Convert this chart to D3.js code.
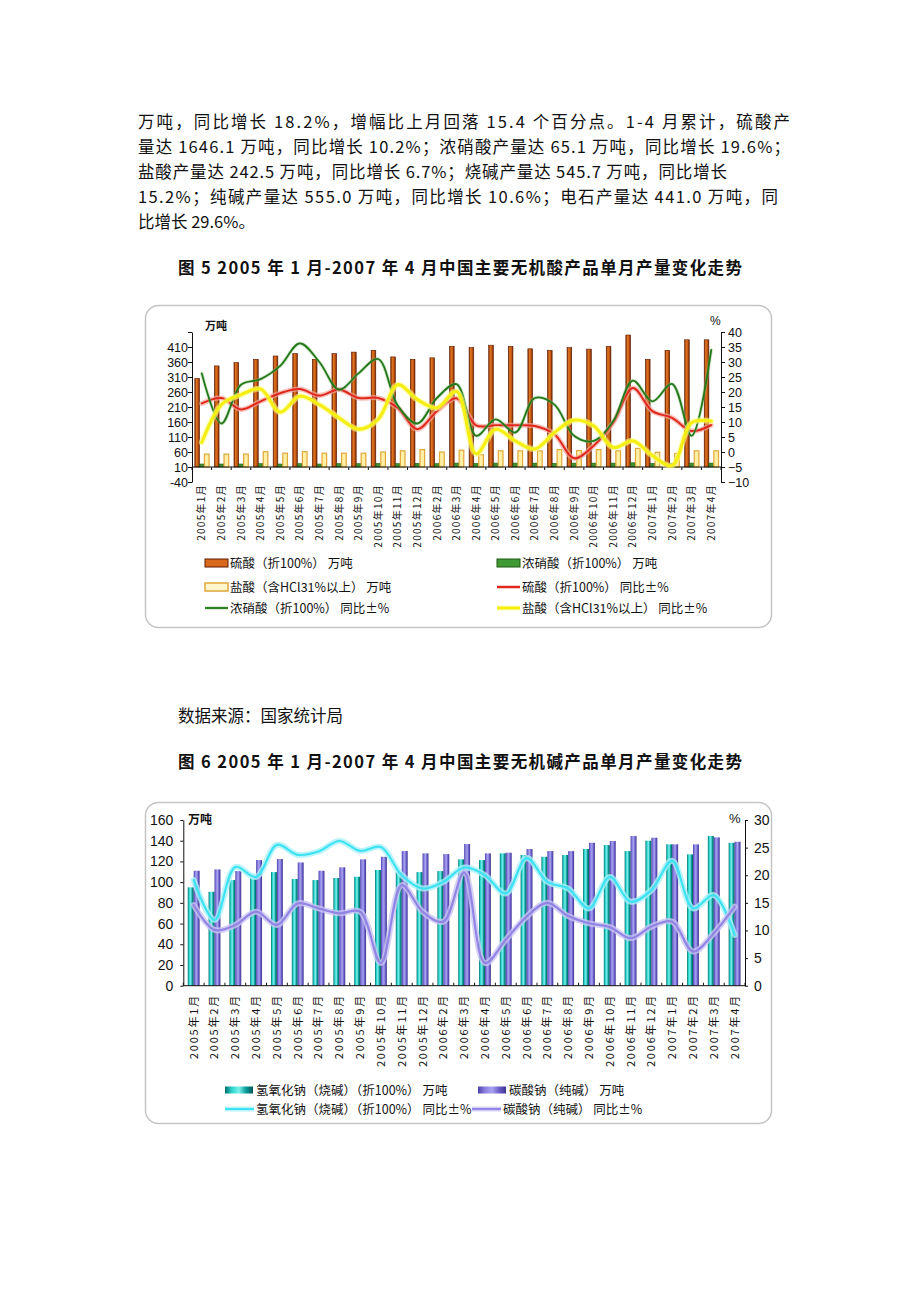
<!DOCTYPE html>
<html><head><meta charset="utf-8">
<script src="https://cdn.jsdelivr.net/npm/d3@7"></script>
<style>body{margin:0;background:#fff}svg{display:block}</style>
</head><body><svg id="c" width="920" height="1302"></svg>
<script>
// ---------- data ----------
const paraLines = [
  "万吨，同比增长 18.2%，增幅比上月回落 15.4 个百分点。1-4 月累计，硫酸产",
  "量达 1646.1 万吨，同比增长 10.2%；浓硝酸产量达 65.1 万吨，同比增长 19.6%；",
  "盐酸产量达 242.5 万吨，同比增长 6.7%；烧碱产量达 545.7 万吨，同比增长",
  "15.2%；纯碱产量达 555.0 万吨，同比增长 10.6%；电石产量达 441.0 万吨，同",
  "比增长 29.6%。"
];
const title1 = "图 5 2005 年 1 月-2007 年 4 月中国主要无机酸产品单月产量变化走势";
const title2 = "图 6 2005 年 1 月-2007 年 4 月中国主要无机碱产品单月产量变化走势";
const sourceText = "数据来源：国家统计局";

const months = ["2005年1月","2005年2月","2005年3月","2005年4月","2005年5月","2005年6月","2005年7月","2005年8月","2005年9月","2005年10月","2005年11月","2005年12月",
  "2006年2月","2006年3月","2006年4月","2006年5月","2006年6月","2006年7月","2006年8月","2006年9月","2006年10月","2006年11月","2006年12月",
  "2007年1月","2007年2月","2007年3月","2007年4月"];

// chart 1 (acids)
const sulfuricOutput = [305,347,358,369,380,388,369,388,393,399,377,369,374,412,408,416,412,404,399,408,403,412,450,369,399,434,434];
const nitricOutput   = [20,20,20,21,20,21,20,21,21,22,21,22,21,23,22,23,23,23,22,23,23,23,24,22,21,23,23];
const hclOutput      = [53,53,53,61,56,61,56,56,56,60,64,68,60,66,51,64,64,64,68,65,68,64,72,59,55,64,64];
const sulfuricYoY = [16.2,18,14.2,16.9,19.6,21,18.8,20.8,18,18,14.7,7.6,13.6,17.9,8.9,8.9,8.9,8.7,5.9,-2.1,2.1,9.8,21.3,13.6,11.4,7,9];
const nitricYoY   = [26.2,9.5,22.4,24.3,28.7,36.2,30,20.8,26.2,31,15.5,9.5,18,22.6,5.4,10.9,6.5,18,15.8,5.4,3.7,10.3,23.8,16.9,22.7,5.4,34];
const hclYoY      = [3.2,15.8,19.1,21,13.3,18.6,15.8,11.4,7.6,10.9,22.4,17.5,14.7,20.2,-0.6,7.6,3.7,1,6.5,10.6,8.7,1.5,3.7,-1.2,-4.5,9.8,10.3];
const ticks1L = [-40,10,60,110,160,210,260,310,360,410,460];
const ticks1R = [-10,-5,0,5,10,15,20,25,30,35,40];

// chart 2 (alkalis)
const causticOutput = [95,90.7,102,103.7,109.7,103,102,104,105.2,111.7,109.7,109.7,110.7,122,121.3,127.8,126.2,124.5,126.2,132,135.8,130,140,136.5,126.8,144.5,138];
const sodaOutput    = [111,112.3,110.7,121.3,122.3,119,111,114.3,122,124.5,130,127.8,127.1,136.8,127.8,128.4,132,130,130,138,139.7,144.5,142.9,136.5,136.5,143.2,139];
const causticYoY = [19.1,11.9,21.5,19.7,25.5,23.7,24.3,26.2,24.4,25.1,20,17.6,18.8,21.4,20,16.7,23.1,18.8,17.6,14,19.7,15.2,17.3,22.6,14,16.4,9.2];
const sodaYoY    = [14.6,10.1,11,13.4,11,14.9,14,13.1,13.4,4.1,18.2,13.4,11.6,20.5,4.1,8.3,12.5,15,12.6,11.3,10.6,8.6,10.7,11.6,6.2,9.5,14.3];
const ticks2L = [0,20,40,60,80,100,120,140,160];
const ticks2R = [0,5,10,15,20,25,30];

const legend1 = [
  {t:"硫酸（折100%） 万吨", k:"barS"}, {t:"浓硝酸（折100%） 万吨", k:"barN"},
  {t:"盐酸（含HCl31%以上） 万吨", k:"barH"}, {t:"硫酸（折100%） 同比±%", k:"lineS"},
  {t:"浓硝酸（折100%） 同比±%", k:"lineN"}, {t:"盐酸（含HCl31%以上） 同比±%", k:"lineH"}
];
const legend2 = [
  {t:"氢氧化钠（烧碱）（折100%） 万吨", k:"barC"}, {t:"碳酸钠（纯碱） 万吨", k:"barD"},
  {t:"氢氧化钠（烧碱）（折100%） 同比±%", k:"lineC"}, {t:"碳酸钠（纯碱） 同比±%", k:"lineD"}
];

// ---------- drawing ----------
const svg = d3.select("#c");
const CJK = "'Noto Sans CJK SC','Noto Sans',sans-serif";
const LAT = "'Liberation Sans',Arial,sans-serif";
const defs = svg.append("defs");
function hgrad(id, stops){
  const g = defs.append("linearGradient").attr("id",id).attr("x1","0").attr("x2","1").attr("y1","0").attr("y2","0");
  stops.forEach((c,i)=>g.append("stop").attr("offset",(i/(stops.length-1)*100)+"%").attr("stop-color",c));
}
hgrad("gS",["#7a2606","#e0761f","#c85a12","#6a1e02"]);
hgrad("gC",["#006e6e","#2fd6d0","#7af0ea","#0a9a9a","#005a5a"]);
hgrad("gD",["#4a3fa6","#8a80e0","#a9a2f0","#6a5fc8","#3e3490"]);

// paragraph
const paraWidths = [652,652,589,640,null];
paraLines.forEach((s,i)=>{
  const t = svg.append("text").attr("x",138).attr("y",128+i*25).attr("font-family",CJK)
    .attr("font-size",16.5).attr("fill","#111").text(s);
  if(paraWidths[i]) t.attr("textLength",paraWidths[i]).attr("lengthAdjust","spacing");
});
svg.append("text").attr("x",178).attr("y",274).attr("font-family",CJK).attr("font-size",16.5)
  .attr("font-weight","bold").attr("fill","#111").attr("textLength",564).attr("lengthAdjust","spacing").text(title1);
svg.append("text").attr("x",178).attr("y",722).attr("font-family",CJK).attr("font-size",16.5)
  .attr("fill","#111").text(sourceText);
svg.append("text").attr("x",178).attr("y",768).attr("font-family",CJK).attr("font-size",16.5)
  .attr("font-weight","bold").attr("fill","#111").attr("textLength",564).attr("lengthAdjust","spacing").text(title2);

// boxes
svg.append("rect").attr("x",145.5).attr("y",305.5).attr("width",626).attr("height",322).attr("rx",13)
  .attr("fill","#fff").attr("stroke","#c4c4c4").attr("stroke-width",1.5);
svg.append("rect").attr("x",145.5).attr("y",802.5).attr("width",626).attr("height",321).attr("rx",13)
  .attr("fill","#fff").attr("stroke","#c4c4c4").attr("stroke-width",1.5);

function glowLine(g, data, x, y, color, glow, w, gw, gop){
  const line = d3.line().x((d,i)=>x(i)).y(d=>y(d)).curve(d3.curveCatmullRom.alpha(0.5));
  g.append("path").attr("d",line(data)).attr("fill","none").attr("stroke",glow).attr("stroke-width",gw)
    .attr("stroke-opacity",gop).attr("stroke-linejoin","round").attr("stroke-linecap","round");
  g.append("path").attr("d",line(data)).attr("fill","none").attr("stroke",color).attr("stroke-width",w)
    .attr("stroke-linejoin","round").attr("stroke-linecap","round");
}

// ===== chart 1 =====
{
  const g = svg.append("g");
  const x = d3.scaleBand().domain(months).range([192,721]);
  const xs = d3.scaleBand().domain(["s","n","h"]).range([0,x.bandwidth()]).paddingOuter(0.6);
  const yL = d3.scaleLinear().domain([-40,460]).range([482,332]);
  const yR = d3.scaleLinear().domain([-10,40]).range([482,332]);
  const base = yL(10);
  const cx = i => x(months[i]) + x.bandwidth()/2;

  // bars
  const bw = xs.bandwidth();
  g.selectAll(".bs").data(sulfuricOutput).join("rect").attr("x",(d,i)=>x(months[i])+xs("s")).attr("width",bw)
    .attr("y",d=>yL(d)).attr("height",d=>base-yL(d)).attr("fill","url(#gS)").attr("stroke","#5e1a02").attr("stroke-width",0.6);
  g.selectAll(".bn").data(nitricOutput).join("rect").attr("x",(d,i)=>x(months[i])+xs("n")).attr("width",bw)
    .attr("y",d=>yL(d)).attr("height",d=>base-yL(d)).attr("fill","#3f8f2e").attr("stroke","#1d5a10").attr("stroke-width",0.6);
  g.selectAll(".bh").data(hclOutput).join("rect").attr("x",(d,i)=>x(months[i])+xs("h")+0.3).attr("width",bw)
    .attr("y",d=>yL(d)).attr("height",d=>base-yL(d)).attr("fill","#fff0a6").attr("stroke","#e2a73a").attr("stroke-width",1.2);

  // axes
  const aL = g.append("g").attr("transform","translate(192,0)")
    .call(d3.axisLeft(yL).tickValues(ticks1L).tickSize(4).tickSizeOuter(0).tickFormat(d=>d<=410?d:""));
  const aR = g.append("g").attr("transform","translate(721,0)")
    .call(d3.axisRight(yR).tickValues(ticks1R).tickSize(4).tickSizeOuter(0));
  [aL,aR].forEach(a=>{a.selectAll("text").attr("font-family",LAT).attr("font-size",12.5).attr("fill","#111");
    a.selectAll("path,line").attr("stroke","#111");});
  aL.selectAll("text").attr("x",-4);
  aR.selectAll("text").attr("x",7);
  // category axis line at value 10
  g.append("line").attr("x1",192).attr("x2",721).attr("y1",base).attr("y2",base).attr("stroke","#111");
  g.selectAll(".ct").data(d3.range(months.length+1)).join("line")
    .attr("x1",i=>x.range()[0]+i*x.step()).attr("x2",i=>x.range()[0]+i*x.step())
    .attr("y1",base).attr("y2",base+3).attr("stroke","#111");
  const aB = g.append("g").attr("transform","translate(0,483)").call(d3.axisBottom(x).tickSize(0));
  aB.select(".domain").remove();
  aB.selectAll("text").attr("transform","rotate(-90)").attr("text-anchor","end").attr("x",-1).attr("y",0)
    .attr("dy","0.36em").attr("font-family",CJK).attr("font-size",10).attr("letter-spacing",1.3).attr("fill","#111");

  // lines
  glowLine(g, sulfuricYoY, cx, yR, "#e0281c", "#f6a6a0", 2, 5, 0.7);
  glowLine(g, nitricYoY, cx, yR, "#23781a", "#8ac07a", 1.8, 3.5, 0.4);
  glowLine(g, hclYoY, cx, yR, "#f4ee12", "#ffff90", 3.2, 6, 0.6);

  g.append("text").attr("x",205).attr("y",330).attr("font-family",CJK).attr("font-size",11).attr("font-weight","bold").attr("fill","#111").text("万吨");
  g.append("text").attr("x",710).attr("y",325).attr("font-family",LAT).attr("font-size",12).attr("fill","#111").text("%");

  // legend
  const pos = [[205,563],[497,563],[205,587],[497,587],[205,608],[497,608]];
  legend1.forEach((d,i)=>{
    const [lx,ly] = pos[i];
    if(d.k==="barS") g.append("rect").attr("x",lx).attr("y",ly-4).attr("width",23).attr("height",8).attr("fill","#d8681c").attr("stroke","#5e1a02");
    if(d.k==="barN") g.append("rect").attr("x",lx).attr("y",ly-4).attr("width",23).attr("height",8).attr("fill","#3f9a36").attr("stroke","#1d5a10");
    if(d.k==="barH") g.append("rect").attr("x",lx).attr("y",ly-4).attr("width",23).attr("height",8).attr("fill","#fff6cc").attr("stroke","#e2a73a").attr("stroke-width",1.5);
    const lc = {lineS:["#e0281c","#f6a6a0",2,4],lineN:["#23781a","#8ac07a",1.8,3],lineH:["#f4ee12","#ffff90",3,5]}[d.k];
    if(lc){
      g.append("line").attr("x1",lx).attr("x2",lx+23).attr("y1",ly).attr("y2",ly).attr("stroke",lc[1]).attr("stroke-width",lc[3]).attr("stroke-opacity",0.6);
      g.append("line").attr("x1",lx).attr("x2",lx+23).attr("y1",ly).attr("y2",ly).attr("stroke",lc[0]).attr("stroke-width",lc[2]);
    }
    g.append("text").attr("x",lx+25).attr("y",ly+4.5).attr("font-family",CJK).attr("font-size",12.5)
      .attr("fill","#111").text(d.t);
  });
}

// ===== chart 2 =====
{
  const g = svg.append("g");
  const x = d3.scaleBand().domain(months).range([183.3,745]);
  const xs = d3.scaleBand().domain(["c","d"]).range([0,x.bandwidth()]).paddingOuter(0.75);
  const yL = d3.scaleLinear().domain([0,160]).range([985.7,820]);
  const yR = d3.scaleLinear().domain([0,30]).range([985.7,820]);
  const base = yL(0);
  const cx = i => x(months[i]) + x.bandwidth()/2;
  const bw = xs.bandwidth();

  g.selectAll(".bc").data(causticOutput).join("rect").attr("x",(d,i)=>x(months[i])+xs("c")).attr("width",bw)
    .attr("y",d=>yL(d)).attr("height",d=>base-yL(d)).attr("fill","url(#gC)");
  g.selectAll(".bd").data(sodaOutput).join("rect").attr("x",(d,i)=>x(months[i])+xs("d")).attr("width",bw)
    .attr("y",d=>yL(d)).attr("height",d=>base-yL(d)).attr("fill","url(#gD)");

  const aL = g.append("g").attr("transform","translate(183.3,0)")
    .call(d3.axisLeft(yL).tickValues(ticks2L).tickSize(3).tickSizeOuter(0));
  const aR = g.append("g").attr("transform","translate(745,0)")
    .call(d3.axisRight(yR).tickValues(ticks2R).tickSize(3).tickSizeOuter(0));
  [aL,aR].forEach(a=>{a.selectAll("text").attr("font-family",LAT).attr("font-size",14).attr("fill","#111");
    a.selectAll("path,line").attr("stroke","#111");});
  aL.selectAll("text").attr("x",-10);
  aR.selectAll("text").attr("x",9);
  g.append("line").attr("x1",183.3).attr("x2",745).attr("y1",base).attr("y2",base).attr("stroke","#111");
  g.selectAll(".ct").data(d3.range(months.length+1)).join("line")
    .attr("x1",i=>x.range()[0]+i*x.step()).attr("x2",i=>x.range()[0]+i*x.step())
    .attr("y1",base).attr("y2",base-3).attr("stroke","#111");
  const aB = g.append("g").attr("transform","translate(0,993)").call(d3.axisBottom(x).tickSize(0));
  aB.select(".domain").remove();
  aB.selectAll("text").attr("transform","rotate(-90)").attr("text-anchor","end").attr("x",-1).attr("y",0)
    .attr("dy","0.36em").attr("font-family",CJK).attr("font-size",11).attr("letter-spacing",1.8).attr("fill","#111");

  glowLine(g, causticYoY, cx, yR, "#3ee2f2", "#a8f2fa", 2.2, 6, 0.8);
  glowLine(g, sodaYoY, cx, yR, "#9284e4", "#cbc4f4", 2.2, 6, 0.8);

  g.append("text").attr("x",188).attr("y",824).attr("font-family",CJK).attr("font-size",12).attr("font-weight","bold").attr("fill","#111").text("万吨");
  g.append("text").attr("x",729).attr("y",823).attr("font-family",LAT).attr("font-size",13).attr("fill","#111").text("%");

  const pos = [[225,1090],[478,1090],[225,1109],[472,1109]];
  legend2.forEach((d,i)=>{
    const [lx,ly] = pos[i];
    if(d.k==="barC") g.append("rect").attr("x",lx).attr("y",ly-3.5).attr("width",28).attr("height",7).attr("fill","url(#gC)");
    if(d.k==="barD") g.append("rect").attr("x",lx).attr("y",ly-3.5).attr("width",28).attr("height",7).attr("fill","url(#gD)");
    const lc = {lineC:["#3ee2f2","#a8f2fa"],lineD:["#9284e4","#cbc4f4"]}[d.k];
    if(lc){
      g.append("line").attr("x1",lx).attr("x2",lx+29).attr("y1",ly).attr("y2",ly).attr("stroke",lc[1]).attr("stroke-width",5).attr("stroke-opacity",0.8);
      g.append("line").attr("x1",lx).attr("x2",lx+29).attr("y1",ly).attr("y2",ly).attr("stroke",lc[0]).attr("stroke-width",2);
    }
    g.append("text").attr("x",lx+31).attr("y",ly+4.5).attr("font-family",CJK).attr("font-size",12.5).attr("fill","#111").text(d.t);
  });
}
</script></body></html>
